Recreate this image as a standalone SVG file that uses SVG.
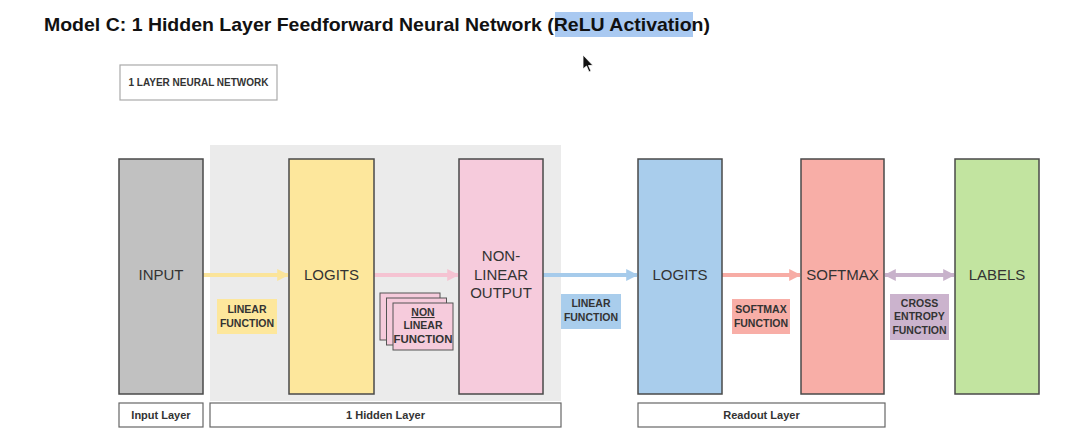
<svg xmlns="http://www.w3.org/2000/svg" width="1066" height="432" viewBox="0 0 1066 432">
<defs>
<style>
text{font-family:"Liberation Sans",Arial,sans-serif}
.node{stroke:#4a4a4a;stroke-width:1.5}
.nt{font-size:15px;fill:#333;text-anchor:middle}
.lab{font-size:10.5px;font-weight:bold;fill:#333;text-anchor:middle}
.bl{fill:#fff;stroke:#666;stroke-width:1.2}
.blt{font-size:11px;font-weight:bold;fill:#333;text-anchor:middle}
.con{fill:none;stroke-width:4}
</style>
<marker id="ay" viewBox="0 0 10 10" refX="9" refY="5" markerWidth="3" markerHeight="3" orient="auto-start-reverse"><path d="M0,0L10,5L0,10z" fill="#fbe49a"/></marker>
<marker id="ap" viewBox="0 0 10 10" refX="9" refY="5" markerWidth="3" markerHeight="3" orient="auto-start-reverse"><path d="M0,0L10,5L0,10z" fill="#f5c3d2"/></marker>
<marker id="ab" viewBox="0 0 10 10" refX="9" refY="5" markerWidth="3" markerHeight="3" orient="auto-start-reverse"><path d="M0,0L10,5L0,10z" fill="#a6cbeb"/></marker>
<marker id="as" viewBox="0 0 10 10" refX="9" refY="5" markerWidth="3" markerHeight="3" orient="auto-start-reverse"><path d="M0,0L10,5L0,10z" fill="#f7aca5"/></marker>
<marker id="av" viewBox="0 0 10 10" refX="9" refY="5" markerWidth="3" markerHeight="3" orient="auto-start-reverse"><path d="M0,0L10,5L0,10z" fill="#c8b2cb"/></marker>
</defs>
<rect width="1066" height="432" fill="#fff"/>
<g id="title">
<rect x="555" y="12" width="138" height="25" fill="#a9c9f1"/>
<text x="44" y="31" font-size="19" font-weight="bold" fill="#111" textLength="666" lengthAdjust="spacingAndGlyphs">Model C: 1 Hidden Layer Feedforward Neural Network (ReLU Activation)</text>
</g>
<g id="cursor"><path d="M583,55 L583,69 L586.5,66 L589,72 L591,71 L588.5,65.5 L593,65.5 Z" fill="#111" stroke="#fff" stroke-width="0.8"/></g>
<g id="caption">
<rect x="120" y="65" width="157" height="35" fill="#fff" stroke="#aaa" stroke-width="1.2"/>
<text x="198.5" y="86" font-size="10" font-weight="bold" fill="#333" text-anchor="middle">1 LAYER NEURAL NETWORK</text>
</g>
<g id="hidden-region"><rect x="210" y="145" width="351" height="256" fill="#ebebeb"/></g>
<g id="connectors">
<line class="con" x1="203" y1="275" x2="288" y2="275" stroke="#fbe49a" marker-end="url(#ay)"/>
<line class="con" x1="374" y1="275" x2="458" y2="275" stroke="#f5c3d2" marker-end="url(#ap)"/>
<line class="con" x1="543" y1="275" x2="637" y2="275" stroke="#a6cbeb" marker-end="url(#ab)"/>
<line class="con" x1="722" y1="275" x2="800" y2="275" stroke="#f7aca5" marker-end="url(#as)"/>
<line class="con" x1="885" y1="275" x2="954" y2="275" stroke="#c8b2cb" marker-start="url(#av)" marker-end="url(#av)"/>
</g>
<g id="input"><rect class="node" x="119" y="159" width="84" height="235" fill="#c1c1c1"/><text class="nt" x="161" y="280">INPUT</text></g>
<g id="logits1"><rect class="node" x="289" y="159" width="85" height="235" fill="#fde79c"/><text class="nt" x="331.5" y="280">LOGITS</text></g>
<g id="nonlinear-output"><rect class="node" x="459" y="159" width="84" height="235" fill="#f6cbdc"/><text class="nt" x="501" y="261">NON-</text><text class="nt" x="501" y="280">LINEAR</text><text class="nt" x="501" y="298">OUTPUT</text></g>
<g id="logits2"><rect class="node" x="638" y="159" width="84" height="235" fill="#a9cdec"/><text class="nt" x="680" y="280">LOGITS</text></g>
<g id="softmax"><rect class="node" x="801" y="159" width="83" height="235" fill="#f8aea7"/><text class="nt" x="842.5" y="280">SOFTMAX</text></g>
<g id="labels"><rect class="node" x="955" y="159" width="84" height="235" fill="#c2e4a0"/><text class="nt" x="997" y="280">LABELS</text></g>
<g id="lbl-linear1"><rect x="217" y="299" width="60" height="35" fill="#fde79c"/><text class="lab" x="247" y="313">LINEAR</text><text class="lab" x="247" y="327">FUNCTION</text></g>
<g id="lbl-nonlinear">
<rect x="380" y="293" width="60" height="47" fill="#f6cbdc" stroke="#555" stroke-width="1"/>
<rect x="386.5" y="298" width="60" height="47" fill="#f6cbdc" stroke="#555" stroke-width="1"/>
<rect x="393" y="303" width="60" height="47" fill="#f6cbdc" stroke="#555" stroke-width="1"/>
<text class="lab" x="423" y="316" text-decoration="underline">NON</text>
<text class="lab" x="423" y="329">LINEAR</text>
<text class="lab" x="423" y="343" textLength="59" lengthAdjust="spacingAndGlyphs">FUNCTION</text>
</g>
<g id="lbl-linear2"><rect x="561" y="294" width="60" height="35" fill="#a9cdec"/><text class="lab" x="591" y="307">LINEAR</text><text class="lab" x="591" y="321">FUNCTION</text></g>
<g id="lbl-softmax"><rect x="732" y="299" width="58" height="35" fill="#f8aea7"/><text class="lab" x="761" y="313">SOFTMAX</text><text class="lab" x="761" y="327">FUNCTION</text></g>
<g id="lbl-xent"><rect x="890" y="294" width="59" height="46" fill="#cbb3cd"/><text class="lab" x="919.5" y="307">CROSS</text><text class="lab" x="919.5" y="320">ENTROPY</text><text class="lab" x="919.5" y="334">FUNCTION</text></g>
<g id="layer-input"><rect class="bl" x="119" y="403" width="84" height="24"/><text class="blt" x="161" y="419">Input Layer</text></g>
<g id="layer-hidden"><rect class="bl" x="210" y="403" width="351" height="24"/><text class="blt" x="385.5" y="419">1 Hidden Layer</text></g>
<g id="layer-readout"><rect class="bl" x="638" y="403" width="247" height="24"/><text class="blt" x="761.5" y="419">Readout Layer</text></g>
</svg>
